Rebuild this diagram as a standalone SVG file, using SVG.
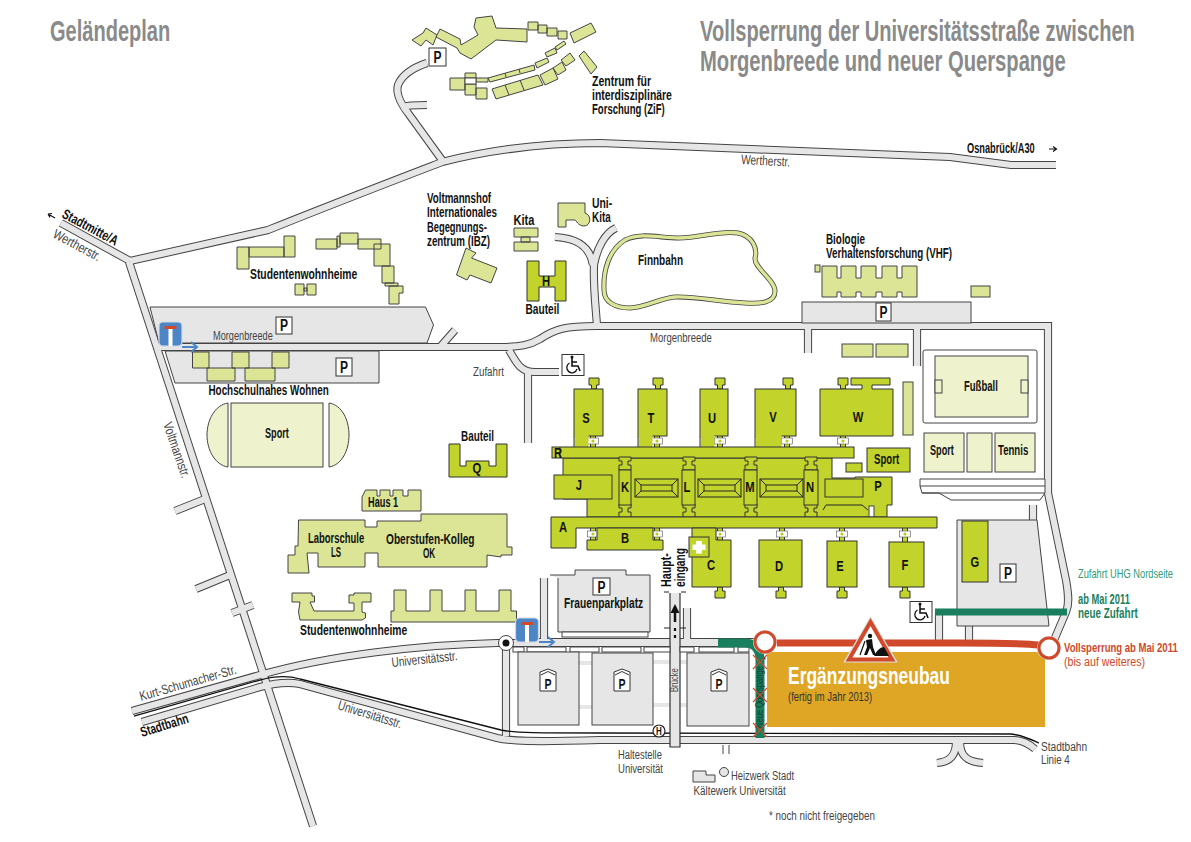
<svg xmlns="http://www.w3.org/2000/svg" width="1191" height="842" viewBox="0 0 1191 842">
<style>
text{font-family:"Liberation Sans",Arial,sans-serif}
.t{font-size:14px;font-weight:700;fill:#111}
.g{font-size:13.500px;fill:#444}
.h{font-size:29px;font-weight:700;fill:#8a8a8a}
.b{fill:#c2d42c;stroke:#333;stroke-width:1}
.m{fill:#dbe595;stroke:#444;stroke-width:1}
.p{fill:#eef2cd;stroke:#444;stroke-width:1}
.a{fill:#e6e6e6;stroke:#444;stroke-width:1}
.w{fill:#fff;stroke:#444;stroke-width:1}
.pk{fill:#fff;stroke:#333;stroke-width:1}
.pt{font-size:16px;font-weight:700;fill:#111;text-anchor:middle}
.c{font-size:15px;font-weight:700;fill:#111;text-anchor:middle}
.gr{fill:none;stroke:#1a7f5e}
.rd{fill:none;stroke:#d0492a}
.x{stroke:#d0492a;stroke-width:1.2;fill:none}
</style>
<defs>
<g id="roads" fill="none">
<path d="M61 223L130 261"/>
<path d="M130 261L268 230C330 205 390 182 442 162C490 150 540 143 600 143L950 157L1011 165H1056"/>
<path d="M129 262L313 826"/>
<path d="M205 499L175 511M230 575L196 589M253 605L232 613"/>
<path d="M442 160L408 113C398 100 396 92 398 85C402 75 412 68 427 63"/>
<path d="M401 107C408 105 418 105 427 105"/>
<path d="M157 347H501C520 347 530 345 540 339C555 329 565 326 597 326H1048V493L1066 580C1069 597 1069 605 1066 612L1052 645"/>
<path d="M555 237C575 238 590 245 593 265"/>
<path d="M616 228C605 233 597 248 594 265C593 285 596 310 597 326"/>
<path d="M509 350C516 362 520 372 535 372H559"/>
<path d="M528 372V443"/>
<path d="M441 346L455 330"/>
<path d="M808 326V353"/>
<path d="M917 326V366"/>
<path d="M132 711L260 675C330 655 420 645 497 643H770"/>
<path d="M142 722L260 687C275 683 290 682 300 684L497 738C510 741 530 742 600 740H1014C1022 740 1028 743 1035 749"/>
<path d="M506 650V736"/>
<path d="M956 742C956 755 950 762 937 763"/>
<path d="M960 742C960 755 966 762 983 763"/>
<path d="M687 608V643"/>
<path d="M939 612V643"/>
<path d="M969 626V643"/>
<path d="M1033 505V520"/>
<path d="M530 642H755"/>
<path d="M544 578V640"/>
<path d="M579 663H592M579 707H592M653 662H670M680 662H687M653 705H670M680 705H687" stroke-width="4"/>
</g>
<path id="nub" d="M-2.500 0V-4H-5V-11H5V-4H2.500V0Z"/>
<g id="lnk"><path class="b" d="M-2.500 -9H2.500V9H-2.500Z"/><rect x="-5.500" y="-3" width="11" height="6" fill="#fff" stroke="#555" stroke-width=".6"/><circle r="1.600" fill="#b7cc1e"/></g>
<path id="clip" class="b" d="M-6 -1H6V3H3V7H6V12H-6V7H-3V3H-6Z"/>
<g id="roof" fill="none" stroke="#222" stroke-width="1"><rect width="43" height="18"/><path d="M0 0L6 6V12L0 18M43 0L37 6V12L43 18M6 6H37M6 12H37"/></g>
<g id="sack"><rect x="-11.500" y="-12" width="23" height="24" rx="4" fill="#4d86c6" stroke="#cfd8e6" stroke-width="1.200"/><rect x="-6" y="-8" width="12" height="3" fill="#d0492a"/><rect x="-2" y="-5" width="4" height="17" fill="#fff"/></g>
<path id="bluearrow" d="M0 0H14M9 -5L15 0L9 5" fill="none" stroke="#4d86c6" stroke-width="2"/>
<g id="wc"><rect x="-11" y="-10.500" width="22" height="21" fill="#fff" stroke="#333"/><path d="M-1 -7V1H5L7 6M-1 -3H4" fill="none" stroke="#111" stroke-width="1.600"/><circle cx="-1" cy="-8" r="1.500" fill="#111"/><path d="M-3.500 -2A5.200 5.200 0 1 0 4 4" fill="none" stroke="#111" stroke-width="1.300"/></g>
<g id="cp"><path d="M-8 -10L0 -13L8 -10V9H-8Z" fill="#fff" stroke="#333"/><path d="M-7 -7L0 -10.500L7 -7" fill="none" stroke="#333"/><text class="pt" transform="translate(0 7) scale(.75 1)" style="font-size:14px">P</text></g>
</defs>

<g id="connectors">
<use href="#roads" stroke="#444" stroke-width="8.200"/>
<use href="#roads" stroke="#e6e6e6" stroke-width="6.200"/>
<path id="stadtbahn" d="M134 716L260 680C275 676 290 676 300 679L501 730C515 733 540 733 600 733L1011 734C1022 735 1030 739 1039 743" fill="none" stroke="#111" stroke-width="1.300"/>
<path id="bruecke" d="M670 593V747H680V593" fill="#e6e6e6" stroke="#333" stroke-width="1.200"/>
<path d="M664 592H669M681 592H686M664 628H670M680 628H686" stroke="#222" fill="none"/>
<path d="M675 622V610" stroke="#111" stroke-width="2.500"/>
<path d="M675 604L679.500 613H670.500Z" fill="#111"/>
<path d="M675 628V642" stroke="#111" stroke-width="2.200" stroke-dasharray="3 4"/>
<path d="M723 745V754M729 745V754" stroke="#444"/>
</g>

<g id="titles">
<text class="h" transform="translate(50 41) scale(.72 1)" textLength="167" lengthAdjust="spacingAndGlyphs">Geländeplan</text>
<text class="h" transform="translate(700 41) scale(.72 1)" textLength="604" lengthAdjust="spacingAndGlyphs">Vollsperrung der Universitätsstraße zwischen</text>
<text class="h" transform="translate(700 71) scale(.72 1)" textLength="508" lengthAdjust="spacingAndGlyphs">Morgenbreede und neuer Querspange</text>
</g>

<g id="zif">
<path class="m" d="M412 40L423 33L426 28L437 35L433 45L426 40L421 46Z"/>
<path class="m" d="M440 29L460 39L461 45L478 35L474 27L476 18L492 16L496 28L527 29V42L496 40L471 59L460 53L457 48L436 37Z"/>
<path class="m" d="M528 22H538V30H528ZM538 25H547V33H538ZM547 28H557V36H547ZM558 31H567V39H558Z"/>
<path class="m" d="M570 33L591 23L596 32L574 43Z"/>
<path class="m" d="M555 47L564 41L566 44L557 50ZM545 53L555 48L557 53L547 57ZM535 63L547 58L549 62L537 68Z"/>
<path class="m" d="M488 78L534 65L535 70L490 82ZM505 73L506 77M519 69L520 73"/>
<path class="m" d="M450 78H465V90H450ZM465 73H476V78H465ZM476 78H488V82H476ZM465 84H476V95H465ZM476 88H487V99H476Z"/>
<rect class="w" x="465" y="78" width="11" height="6"/>
<path class="m" d="M492 89L538 75L543 85L496 99ZM505 85L509 95M520 80L524 90"/>
<path class="m" d="M540 75L553 68L558 79L545 85ZM553 68L562 62L566 70L558 75ZM561 60L570 53L575 60L566 66Z"/>
<path class="m" d="M579 56L584 51L597 67L591 74Z"/>
<rect class="pk" x="429" y="48" width="17" height="18"/><text class="pt" transform="translate(437.500 63) scale(.75 1)">P</text>
<text class="t" transform="translate(592 86) scale(.72 1)" textLength="82" lengthAdjust="spacingAndGlyphs">Zentrum für</text>
<text class="t" transform="translate(592 100) scale(.72 1)" textLength="111" lengthAdjust="spacingAndGlyphs">interdisziplinäre</text>
<text class="t" transform="translate(592 114) scale(.72 1)" textLength="101" lengthAdjust="spacingAndGlyphs">Forschung (ZiF)</text>
</g>

<g id="studentenwohnheime-nord">
<path class="m" d="M237 247H249V269H237ZM249 247H284V257H249ZM284 236H295V257H284Z"/>
<path class="m" d="M316 239H337V249H316ZM337 236H340V247H337ZM340 233H358V244H340ZM358 239H381V249H358ZM374 244H390V266H374ZM382 266H394V283H382ZM385 283H398V286H385ZM389 286H403V293H399V304H389Z"/>
<path class="m" d="M295 284H304V295H295ZM307 284H316V295H307ZM304 288H307V291H304Z"/>
<text class="t" transform="translate(250 279) scale(.72 1)" textLength="149" lengthAdjust="spacingAndGlyphs">Studentenwohnheime</text>
</g>

<g id="ibz">
<path class="m" d="M466 248L476 253L471.500 258L497 268L491 283L470 275L467 280L456.500 275Z"/>
<text class="t" transform="translate(427 203) scale(.72 1)" textLength="89" lengthAdjust="spacingAndGlyphs">Voltmannshof</text>
<text class="t" transform="translate(427 217) scale(.72 1)" textLength="97" lengthAdjust="spacingAndGlyphs">Internationales</text>
<text class="t" transform="translate(427 232) scale(.72 1)" textLength="83" lengthAdjust="spacingAndGlyphs">Begegnungs-</text>
<text class="t" transform="translate(427 246) scale(.72 1)" textLength="87.500" lengthAdjust="spacingAndGlyphs">zentrum (IBZ)</text>
</g>

<g id="kita">
<path class="m" d="M514 228H538V237H514ZM521 237H530V242H521ZM514 242H538V251H514Z"/>
<text class="t" transform="translate(513.500 225) scale(.72 1)" textLength="29" lengthAdjust="spacingAndGlyphs">Kita</text>
</g>
<g id="uni-kita">
<path class="m" d="M558 203H585V213C592 215 591 226 584 226C578 226 576 220 575 220H566V227H558Z"/>
<text class="t" transform="translate(592 208) scale(.72 1)" textLength="28" lengthAdjust="spacingAndGlyphs">Uni-</text>
<text class="t" transform="translate(592 222) scale(.72 1)" textLength="26" lengthAdjust="spacingAndGlyphs">Kita</text>
</g>
<g id="bauteil-h">
<path class="b" d="M527 261H539V276H555V261H566V301H555V287H539V301H527Z"/>
<text class="c" transform="translate(546 286) scale(.75 1)">H</text>
<text class="t" transform="translate(525.500 314) scale(.72 1)" textLength="47" lengthAdjust="spacingAndGlyphs">Bauteil</text>
</g>

<g id="finnbahn">
<path d="M604 290C603 270 609 250 625 240C640 232 660 238 679 238C700 238 720 230 738 233C752 236 758 248 755 258C754 268 775 280 775 291C775 303 760 304 745 303C720 302 695 296 675 297C660 298 645 308 630 308C615 308 604 302 604 290Z" fill="none" stroke="#444" stroke-width="5"/>
<path d="M604 290C603 270 609 250 625 240C640 232 660 238 679 238C700 238 720 230 738 233C752 236 758 248 755 258C754 268 775 280 775 291C775 303 760 304 745 303C720 302 695 296 675 297C660 298 645 308 630 308C615 308 604 302 604 290Z" fill="none" stroke="#dbe595" stroke-width="3.400"/>
<text class="t" transform="translate(638 265) scale(.72 1)" textLength="62.500" lengthAdjust="spacingAndGlyphs">Finnbahn</text>
</g>

<g id="vhf">
<path class="m" d="M822 266H837V278H841V266H856V278H861V266H876V278H882V266H897V278H902V266H917V297H902V292H897V297H882V292H876V297H861V292H856V297H841V292H837V297H822Z"/>
<rect class="m" x="815" y="265" width="5" height="7"/>
<rect class="m" x="971" y="286" width="19" height="11"/>
<rect class="a" x="802" y="302" width="169" height="21"/>
<rect class="pk" x="876" y="303" width="15" height="18"/><text class="pt" transform="translate(883.500 318) scale(.75 1)">P</text>
<text class="t" transform="translate(826 244) scale(.72 1)" textLength="54" lengthAdjust="spacingAndGlyphs">Biologie</text>
<text class="t" transform="translate(826 258) scale(.72 1)" textLength="175" lengthAdjust="spacingAndGlyphs">Verhaltensforschung (VHF)</text>
</g>
<g id="nebengebaeude"><rect class="m" x="842" y="344" width="31" height="13"/><rect class="m" x="876" y="344" width="32" height="13"/><rect class="m" x="903" y="382" width="10" height="53"/></g>

<g id="parkplatz-morgenbreede">
<path class="a" d="M150 307H425.500L433.500 325L427 343H159Z"/>
<path class="a" d="M165 351H379V383H175Z"/>
<rect class="pk" x="276" y="317" width="16" height="17"/><text class="pt" transform="translate(284 331) scale(.75 1)">P</text>
<rect class="pk" x="336" y="358" width="16" height="18"/><text class="pt" transform="translate(344 373) scale(.75 1)">P</text>
</g>
<g id="hochschulnahes-wohnen">
<path class="m" d="M192.500 352H209V368H192.500ZM232 352H249V368H232ZM272 352H289V368H272ZM207 368H235V381H207ZM245 368H275V381H245Z"/>
<text class="t" transform="translate(208.500 395) scale(.72 1)" textLength="167" lengthAdjust="spacingAndGlyphs">Hochschulnahes Wohnen</text>
</g>
<g id="sackgasse-1"><use href="#sack" x="170.500" y="334"/><use href="#bluearrow" x="182" y="347"/></g>

<g id="sport-platz">
<rect class="p" x="231" y="403" width="92" height="64"/>
<path class="p" d="M228 403V467C215 465 207 450 207 435C207 420 215 405 228 403Z"/>
<path class="p" d="M329 403V467C342 465 349 450 349 435C349 420 342 405 329 403Z"/>
<text class="t" transform="translate(265 438) scale(.72 1)" textLength="33" lengthAdjust="spacingAndGlyphs">Sport</text>
</g>

<g id="fussball">
<rect x="923" y="350" width="114" height="73" rx="2" fill="#fff" stroke="#444"/>
<rect class="p" x="935" y="356" width="93" height="61"/>
<rect class="p" x="935" y="380" width="7" height="13"/><rect class="p" x="1021" y="380" width="7" height="13"/>
<text class="t" transform="translate(964 391) scale(.72 1)" textLength="47" lengthAdjust="spacingAndGlyphs">Fußball</text>
</g>
<g id="sport-tennis">
<rect class="p" x="924" y="433" width="40" height="39"/><rect class="p" x="967" y="433" width="25" height="39"/><rect class="p" x="995" y="433" width="40" height="39"/>
<text class="t" transform="translate(930 455) scale(.72 1)" textLength="33" lengthAdjust="spacingAndGlyphs">Sport</text>
<text class="t" transform="translate(998 455) scale(.72 1)" textLength="42" lengthAdjust="spacingAndGlyphs">Tennis</text>
<path class="w" d="M920 479H1045V493L1040 500H951L939 493H922L920 486Z"/><path d="M920 486H1045M922 493H1045" fill="none" stroke="#444"/>
</g>

<g id="bauteil-q">
<path class="b" d="M449 444H460V466H466V461H489V466H496V444H507V477H449Z"/>
<text class="c" transform="translate(477 473) scale(.75 1)">Q</text>
<text class="t" transform="translate(461 441) scale(.72 1)" textLength="46" lengthAdjust="spacingAndGlyphs">Bauteil</text>
</g>
<g id="haus-1">
<path class="m" d="M362 497L365.500 490H377V496H380V490H390V496H393V490H403V496H408V490H421V511H362Z"/>
<text class="t" transform="translate(368 507) scale(.72 1)" textLength="42" lengthAdjust="spacingAndGlyphs">Haus 1</text>
</g>
<g id="laborschule">
<path class="m" d="M298.500 520H365V527H377V521H421V514H507V547H512V555H501V557L487 555V567H378V553H365V567H318V553H307L309 573H288V555H295V546H298Z"/>
<text class="t" transform="translate(308 543) scale(.72 1)" textLength="78" lengthAdjust="spacingAndGlyphs">Laborschule</text>
<text class="t" transform="translate(331 557) scale(.72 1)" textLength="14" lengthAdjust="spacingAndGlyphs">LS</text>
<text class="t" transform="translate(386 544) scale(.72 1)" textLength="123" lengthAdjust="spacingAndGlyphs">Oberstufen-Kolleg</text>
<text class="t" transform="translate(423 558) scale(.72 1)" textLength="17" lengthAdjust="spacingAndGlyphs">OK</text>
</g>
<g id="studentenwohnheime-sued">
<path class="m" d="M292 593H312V596H314.500V602H310L314 611H354V603H349V595H354V593H371V602H362V612L365.500 613V618L362 620H300L298.500 612L300 602H292Z"/>
<path class="m" d="M394 590H406V611H430V590H442V611H465V590H476V611H499V590H511V611H516.500V622H391V611H394Z"/>
<text class="t" transform="translate(300 635) scale(.72 1)" textLength="149" lengthAdjust="spacingAndGlyphs">Studentenwohnheime</text>
</g>

<g id="frauenparkplatz">
<path class="a" d="M550 575H575V570H626V575H650V632H558V578"/>
<rect class="w" x="562" y="632" width="86" height="5"/>
<rect class="pk" x="593" y="578" width="17" height="17"/><text class="pt" transform="translate(601.500 593) scale(.75 1)">P</text>
<text class="t" transform="translate(564 608) scale(.72 1)" textLength="110" lengthAdjust="spacingAndGlyphs">Frauenparkplatz</text>
</g>

<g id="haupt-parkplaetze">
<rect class="w" x="513" y="647" width="11" height="5"/><rect class="w" x="527" y="647" width="39" height="5"/><rect class="w" x="570" y="647" width="29" height="5"/>
<rect class="w" x="602" y="647" width="39" height="5"/><rect class="w" x="644" y="647" width="26" height="5"/><rect class="w" x="680" y="647" width="14" height="5"/>
<rect class="w" x="699" y="647" width="35" height="5"/><rect class="w" x="738" y="647" width="11" height="5"/>
<rect class="a" x="518" y="652" width="61" height="73"/><use href="#cp" x="548" y="682"/>
<rect class="a" x="592" y="653" width="61" height="72"/><use href="#cp" x="622" y="682"/>
<rect class="a" x="687" y="653" width="62" height="73"/><use href="#cp" x="719" y="682"/>
</g>

<g id="campus-uhg">
<g id="verbinder">
<use href="#nub" class="b" x="594" y="389"/><use href="#nub" class="b" x="658" y="389"/><use href="#nub" class="b" x="720" y="389"/><use href="#nub" class="b" x="788" y="389"/><use href="#nub" class="b" x="843" y="389"/>
<use href="#lnk" x="593" y="441"/><use href="#lnk" x="657" y="441"/><use href="#lnk" x="720" y="441"/><use href="#lnk" x="787" y="441"/><use href="#lnk" x="843" y="441"/>
<use href="#lnk" x="593" y="534"/><use href="#lnk" x="657" y="534"/><use href="#lnk" x="720" y="534"/><use href="#lnk" x="782" y="534"/><use href="#lnk" x="842" y="534"/><use href="#lnk" x="905" y="534"/>
<use href="#nub" class="b" transform="translate(720 587) scale(1 -1)"/><use href="#nub" class="b" transform="translate(781 587) scale(1 -1)"/><use href="#nub" class="b" transform="translate(842 587) scale(1 -1)"/><use href="#nub" class="b" transform="translate(905 587) scale(1 -1)"/>
</g>
<g id="bau-s"><rect class="b" x="574" y="389" width="29" height="47"/><rect x="574.500" y="435" width="14" height="12" fill="#c2d42c"/><path d="M574 436V447" stroke="#333"/><text class="c" transform="translate(586 423) scale(.75 1)">S</text></g>
<g id="bau-t"><rect class="b" x="638" y="389" width="29" height="47"/><rect x="638.500" y="435" width="14" height="12" fill="#c2d42c"/><path d="M638 436V447" stroke="#333"/><text class="c" transform="translate(651 423) scale(.75 1)">T</text></g>
<g id="bau-u"><rect class="b" x="700" y="389" width="28" height="47"/><rect x="700.500" y="435" width="14" height="12" fill="#c2d42c"/><path d="M700 436V447" stroke="#333"/><text class="c" transform="translate(712 423) scale(.75 1)">U</text></g>
<g id="bau-v"><rect class="b" x="755" y="389" width="41" height="47"/><rect x="755.500" y="435" width="26" height="12" fill="#c2d42c"/><path d="M755 436V447" stroke="#333"/><text class="c" transform="translate(773 422) scale(.75 1)">V</text></g>
<g id="bau-w"><path class="b" d="M851 378H890V385H872V389H893V436H820V389H862V385H851Z"/><text class="c" transform="translate(858 422) scale(.75 1)">W</text></g>
<g id="bau-querriegel-nord">
<path class="b" d="M563 458H623V517H587V499H563Z"/>
<rect class="b" x="627" y="458" width="60" height="59"/><rect class="b" x="691" y="458" width="58" height="59"/><rect class="b" x="753" y="458" width="55" height="59"/>
<path class="b" d="M813 458H832V478H855V477H892V505H887V517H813Z"/>
<rect class="b" x="552" y="447" width="302" height="11"/><path d="M560 447V458" stroke="#333"/><text class="c" transform="translate(558 458) scale(.75 1)">R</text>
<use href="#roof" x="635" y="479"/><use href="#roof" x="698" y="479"/><use href="#roof" x="760" y="479"/>
<rect class="b" x="825" y="479" width="38" height="18"/>
<path d="M823 510L826 505H862L868 510" fill="none" stroke="#222"/><rect x="869" y="506" width="5" height="11" class="w"/>
</g>
<g id="spangen">
<use href="#clip" x="625" y="458"/><use href="#clip" x="689" y="458"/><use href="#clip" x="751" y="458"/><use href="#clip" x="811" y="458"/>
<use href="#clip" x="625" y="505"/><use href="#clip" x="689" y="505"/><use href="#clip" x="751" y="505"/><use href="#clip" x="811" y="505"/>
<rect class="b" x="619" y="470" width="12" height="35"/><rect class="b" x="682" y="470" width="13" height="35"/><rect class="b" x="744" y="470" width="13" height="35"/><rect class="b" x="804" y="470" width="14" height="35"/>
<text class="c" transform="translate(625 492) scale(.75 1)">K</text><text class="c" transform="translate(687 492) scale(.75 1)">L</text><text class="c" transform="translate(750 492) scale(.75 1)">M</text><text class="c" transform="translate(810 492) scale(.75 1)">N</text>
</g>
<g id="bau-j"><rect class="b" x="554" y="475" width="58" height="24"/><text class="c" transform="translate(579 490) scale(.75 1)">J</text></g>
<text class="c" transform="translate(878 491) scale(.75 1)">P</text>
<g id="bau-querriegel-sued">
<path class="b" d="M551 517H937V528H576V548H551Z"/>
<text class="c" transform="translate(563 532) scale(.75 1)">A</text>
</g>
<g id="bau-b"><path class="b" d="M597 528H653V540H663V550H587V540H597Z"/><text class="c" transform="translate(625 543) scale(.75 1)">B</text></g>
<g id="bau-c"><path class="b" d="M692 528H716V540H731V587H692Z"/><text class="c" transform="translate(711 570) scale(.75 1)">C</text>
<g id="erste-hilfe"><rect class="b" x="689" y="537" width="20" height="20"/><path d="M696 541H702V544.500H705.500V550H702V553.500H696V550H692.500V544.500H696Z" fill="#fff"/></g></g>
<g id="bau-d"><rect class="b" x="759" y="540" width="43" height="47"/><text class="c" transform="translate(779 571) scale(.75 1)">D</text></g>
<g id="bau-e"><rect class="b" x="827" y="541" width="30" height="46"/><text class="c" transform="translate(840 571) scale(.75 1)">E</text></g>
<g id="bau-f"><rect class="b" x="889" y="542" width="35" height="45"/><text class="c" transform="translate(905 570) scale(.75 1)">F</text></g>
<g id="bau-sport"><rect class="b" x="867" y="448" width="43" height="24"/><rect class="b" x="846" y="463" width="16" height="9"/><text class="t" transform="translate(874 464) scale(.72 1)" textLength="35" lengthAdjust="spacingAndGlyphs">Sport</text></g>
</g>

<g id="parkplatz-g">
<path class="a" d="M957 520H1037L1049 626H957Z"/>
<rect class="b" x="962" y="521" width="26" height="61"/><text class="c" transform="translate(975 567) scale(.75 1)">G</text>
<rect class="pk" x="1000" y="564" width="16" height="18"/><text class="pt" transform="translate(1008 579) scale(.75 1)">P</text>
</g>
<use id="rollstuhl-1" href="#wc" x="573" y="365"/>
<use id="rollstuhl-2" href="#wc" x="921" y="612"/>

<g id="neue-zufahrt">
<path class="gr" stroke-width="7" d="M935 612H1067"/>
<text transform="translate(1078 578) scale(.72 1)" textLength="132" lengthAdjust="spacingAndGlyphs" style="font-size:13px;fill:#2e9b78">Zufahrt UHG Nordseite</text>
<text transform="translate(1078 604) scale(.72 1)" textLength="72" lengthAdjust="spacingAndGlyphs" style="font-size:14px;font-weight:700;fill:#1a7f5e">ab Mai 2011</text>
<text transform="translate(1078 618) scale(.72 1)" textLength="83" lengthAdjust="spacingAndGlyphs" style="font-size:14px;font-weight:700;fill:#1a7f5e">neue Zufahrt</text>
</g>

<g id="ergaenzungsneubau">
<rect x="767" y="652" width="278" height="75" fill="#dfa626"/>
<text transform="translate(788 684) scale(.72 1)" textLength="225" lengthAdjust="spacingAndGlyphs" style="font-size:24px;font-weight:700;fill:#fff">Ergänzungsneubau</text>
<text transform="translate(788 701) scale(.72 1)" textLength="117" lengthAdjust="spacingAndGlyphs" style="font-size:12px;fill:#333">(fertig im Jahr 2013)</text>
</g>

<g id="querspange">
<path class="gr" stroke-width="9" d="M718 643H745C755 643 760 650 760 660V738"/>
<text transform="translate(763 728) rotate(-90) scale(.72 1)" textLength="86" lengthAdjust="spacingAndGlyphs" style="font-size:10px;fill:#0f3d2e">Neue Querspange</text>
<path class="x" d="M753 655L767 669M767 655L753 669M753 688L767 702M767 688L753 702M753 723L767 737M767 723L753 737"/>
<text x="763" y="662" style="font-size:8px;fill:#333">*</text>
</g>
<g id="vollsperrung">
<path class="rd" stroke-width="7" d="M777 643H960C1000 643 1020 643 1039 645"/>
<circle cx="765" cy="642" r="12" fill="#e0e0e0"/><circle cx="765" cy="642" r="10" fill="#fff" stroke="#d0492a" stroke-width="3"/>
<circle cx="1049" cy="648" r="12" fill="#e0e0e0"/><circle cx="1049" cy="648" r="10" fill="#fff" stroke="#d0492a" stroke-width="3"/>
<text transform="translate(1064 652) scale(.72 1)" textLength="158" lengthAdjust="spacingAndGlyphs" style="font-size:13.500px;font-weight:700;fill:#d0492a">Vollsperrung ab Mai 2011</text>
<text transform="translate(1064 666) scale(.72 1)" textLength="112.500" lengthAdjust="spacingAndGlyphs" style="font-size:13.500px;fill:#d0492a">(bis auf weiteres)</text>
</g>
<g id="baustellenschild">
<path d="M870.500 617L897 662H844Z" fill="#ddd" stroke="#ddd" stroke-width="1"/>
<path d="M870.500 622L892 659.500H849Z" fill="#fff" stroke="#d0492a" stroke-width="4"/>
<circle cx="870" cy="636" r="2.200" fill="#111"/>
<path d="M866 640L872 639L873 647L876 655H873L870 648L867 655H864L867 647Z" fill="#111"/>
<path d="M865 641L860 655" stroke="#111" stroke-width="1.200"/>
<path d="M874 656C877 650 881 647 884 647C886 651 888 654 889 656Z" fill="#111"/>
</g>

<g id="kreisel"><circle cx="506" cy="643" r="7.500" fill="#fff" stroke="#444"/><circle cx="506" cy="643" r="3.500" fill="#111"/></g>
<g id="sackgasse-2"><use href="#sack" x="527" y="630"/><use href="#bluearrow" x="539" y="642"/></g>

<g id="haltestelle">
<circle cx="659" cy="731" r="6" fill="#fff" stroke="#222" stroke-width="1.200"/>
<text text-anchor="middle" transform="translate(659 734.500) scale(.8 1)" style="font-size:10px;font-weight:700;fill:#111">H</text>
<text class="g" transform="translate(618 759) scale(.72 1)" textLength="61" lengthAdjust="spacingAndGlyphs">Haltestelle</text>
<text class="g" transform="translate(618 773) scale(.72 1)" textLength="62.500" lengthAdjust="spacingAndGlyphs">Universität</text>
</g>
<g id="heizwerk">
<path class="a" d="M693 771H706V775H715V782H693Z"/>
<circle class="a" cx="724" cy="772" r="4.500"/>
<text class="g" transform="translate(731 780) scale(.72 1)" textLength="87.500" lengthAdjust="spacingAndGlyphs">Heizwerk Stadt</text>
<text class="g" transform="translate(693.500 795) scale(.72 1)" textLength="128" lengthAdjust="spacingAndGlyphs">Kältewerk Universität</text>
</g>

<g id="strassennamen">
<text class="g" transform="translate(741 164) rotate(3) scale(.72 1)" textLength="68" lengthAdjust="spacingAndGlyphs">Wertherstr.</text>
<text class="t" transform="translate(967 153) scale(.72 1)" textLength="94" lengthAdjust="spacingAndGlyphs">Osnabrück/A30</text>
<path d="M1049 149H1056M1053 146.500L1056.500 149L1053 151.500" fill="none" stroke="#111" stroke-width="1.200"/>
<text class="t" transform="translate(61 217) rotate(28) scale(.72 1)" textLength="85" lengthAdjust="spacingAndGlyphs">Stadtmitte/A</text>
<path d="M55 218L48 214M48 214L52 213.500M48 214L50 217.500" fill="none" stroke="#111" stroke-width="1.200"/>
<text class="g" transform="translate(52 237) rotate(28) scale(.72 1)" textLength="72" lengthAdjust="spacingAndGlyphs">Wertherstr.</text>
<text class="g" transform="translate(213 340) scale(.72 1)" textLength="83" lengthAdjust="spacingAndGlyphs">Morgenbreede</text>
<text class="g" transform="translate(650 342) scale(.72 1)" textLength="86" lengthAdjust="spacingAndGlyphs">Morgenbreede</text>
<text class="g" transform="translate(473 376) scale(.72 1)" textLength="43" lengthAdjust="spacingAndGlyphs">Zufahrt</text>
<text class="g" transform="translate(163 424) rotate(71) scale(.72 1)" textLength="80.500" lengthAdjust="spacingAndGlyphs">Voltmannstr.</text>
<text class="g" transform="translate(141 701) rotate(-16) scale(.72 1)" textLength="139" lengthAdjust="spacingAndGlyphs">Kurt-Schumacher-Str.</text>
<text class="t" transform="translate(142 737) rotate(-17) scale(.72 1)" textLength="69" lengthAdjust="spacingAndGlyphs">Stadtbahn</text>
<text class="g" transform="translate(392 667) rotate(-6) scale(.72 1)" textLength="92" lengthAdjust="spacingAndGlyphs">Universitätsstr.</text>
<text class="g" transform="translate(337 709) rotate(17) scale(.72 1)" textLength="92" lengthAdjust="spacingAndGlyphs">Universitätsstr.</text>
<text transform="translate(678 692) rotate(-90) scale(.72 1)" textLength="33" lengthAdjust="spacingAndGlyphs" style="font-size:10px;fill:#444">Brücke</text>
<text class="t" transform="translate(671 587) rotate(-90) scale(.72 1)" textLength="47" lengthAdjust="spacingAndGlyphs">Haupt-</text>
<text class="t" transform="translate(685 587) rotate(-90) scale(.72 1)" textLength="54" lengthAdjust="spacingAndGlyphs">eingang</text>
<text class="g" transform="translate(1041 751) scale(.72 1)" textLength="64" lengthAdjust="spacingAndGlyphs">Stadtbahn</text>
<text class="g" transform="translate(1041 764) scale(.72 1)" textLength="40" lengthAdjust="spacingAndGlyphs">Linie 4</text>
<text class="g" transform="translate(769 820) scale(.72 1)" textLength="147" lengthAdjust="spacingAndGlyphs">* noch nicht freigegeben</text>
</g>
</svg>
